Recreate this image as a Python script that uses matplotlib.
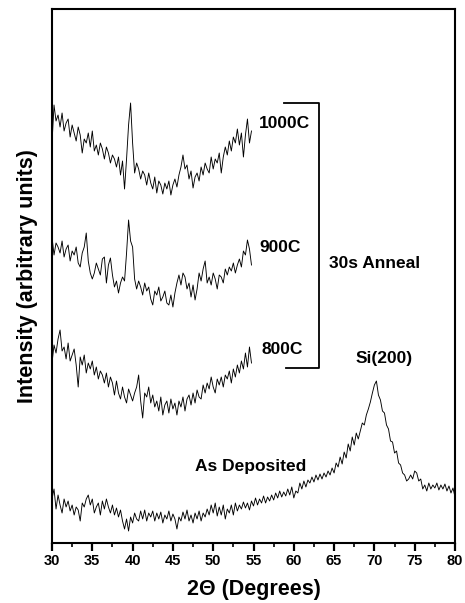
import numpy as np
import matplotlib
matplotlib.use("Agg")
import matplotlib.pyplot as plt
from matplotlib.ticker import MultipleLocator

plt.rcParams['font.family'] = ['Liberation Sans', 'DejaVu Sans']
plt.rcParams['font.weight'] = 'bold'

# ---- data ----
scan_start = 30.0
scan_step = 0.25

series_names = ["As Deposited", "800C", "900C", "1000C"]
series_offsets = [0, 120, 230, 340]

as_deposited = [
    44, 54, 34, 48, 38, 30, 44, 36, 42, 32,
    38, 28, 36, 33, 22, 40, 36, 44, 48, 38,
    44, 30, 36, 40, 28, 42, 34, 44, 36, 30,
    38, 28, 35, 26, 33, 22, 14, 24, 12, 26,
    20, 30, 24, 22, 32, 24, 33, 22, 30, 26,
    32, 22, 30, 24, 31, 20, 28, 24, 32, 22,
    29, 24, 14, 26, 22, 31, 24, 33, 22, 28,
    20, 30, 24, 32, 22, 30, 26, 34, 28, 38,
    30, 40, 27, 36, 28, 38, 24, 34, 30, 38,
    28, 40, 32, 38, 34, 41, 35, 40, 33, 42,
    37, 45, 38, 44, 40, 47, 40, 46, 42, 48,
    43, 50, 45, 52, 46, 51, 47, 54, 48, 56,
    45, 52, 50, 60, 54, 62, 56, 63, 60, 66,
    61, 68, 63, 69, 64, 70, 66, 72, 68, 75,
    70, 80, 76, 86, 79, 91, 85, 99, 92, 106,
    98, 110, 104, 112, 120, 118, 128, 134, 141, 150,
    158, 162, 148, 143, 132, 130, 118, 114, 102, 101,
    90, 92, 80, 78, 70, 68, 62, 64, 68, 64,
    72, 70, 62, 64, 54, 58, 52, 60, 54, 58,
    55, 60, 53, 58, 54, 59, 52, 57, 50, 55,
    46,
]

anneal_800 = [
    60, 78, 70, 84, 93, 72, 76, 64, 80, 62,
    68, 74, 58, 36, 66, 58, 68, 50, 60, 54,
    62, 48, 56, 44, 52, 48, 40, 50, 36, 46,
    40, 28, 42, 30, 24, 36, 26, 20, 34, 28,
    22, 30, 36, 48, 22, 5, 30, 26, 36, 20,
    28, 16, 22, 12, 26, 8, 18, 22, 10, 24,
    14, 20, 8, 22, 16, 26, 12, 24, 28, 18,
    30, 20, 33, 26, 24, 38, 30, 40, 34, 46,
    36, 30, 44, 38, 46, 36, 48, 44, 52, 40,
    54, 46, 58, 50, 62, 54, 70, 56, 76, 60,
]

anneal_900 = [
    76, 58, 70, 66, 60, 72, 56, 64, 68, 52,
    62, 58, 66, 50, 46, 60, 66, 80, 52, 40,
    34, 40, 50, 44, 38, 54, 56, 30, 48, 55,
    38, 26, 32, 20, 30, 36, 32, 60, 93, 72,
    66, 34, 24, 32, 26, 18, 30, 22, 26, 14,
    8, 22, 18, 26, 12, 16, 22, 10, 8, 18,
    6, 20, 30, 38, 28, 40, 36, 24, 30, 16,
    28, 13, 24, 40, 32, 44, 52, 30, 36, 28,
    40, 34, 24, 38, 36, 30, 44, 38, 46, 42,
    50, 40, 48, 54, 46, 62, 58, 73, 64, 48,
]

anneal_1000 = [
    60, 98, 82, 88, 76, 90, 72, 80, 84, 66,
    78, 70, 62, 76, 68, 50, 64, 60, 70, 56,
    72, 52, 58, 48, 60, 54, 44, 56, 50, 40,
    48, 44, 36, 46, 28, 42, 14, 44, 78, 100,
    60, 30, 40, 34, 24, 32, 28, 18, 30, 20,
    14, 26, 10, 22, 18, 9, 20, 14, 22, 8,
    18, 24, 16, 28, 36, 48, 34, 38, 24, 32,
    15, 26, 30, 22, 36, 28, 40, 34, 30, 46,
    34, 44, 40, 50, 30, 46, 56, 48, 62, 52,
    66, 60, 74, 58, 70, 46, 68, 84, 60, 72,
]

series_values = [as_deposited, anneal_800, anneal_900, anneal_1000]

x_ticks = [30, 35, 40, 45, 50, 55, 60, 65, 70, 75, 80]

# ---- figure ----
fig = plt.figure(figsize=(4.65, 6.03), dpi=100)
ax = fig.add_axes([52 / 465, 1 - 543 / 603, (455 - 52) / 465, (543 - 9) / 603])

for vals, off in zip(series_values, series_offsets):
    v = np.asarray(vals, dtype=float)
    x = scan_start + scan_step * np.arange(len(v))
    ax.plot(x, v + off, color='black', lw=0.65)

ax.set_xlim(30, 80)
ax.set_ylim(0, 534)
ax.set_xticks(x_ticks)
ax.xaxis.set_minor_locator(MultipleLocator(2.5))
ax.set_yticks([])
ax.tick_params(axis='x', which='major', direction='out', length=6, width=1.6,
               labelsize=10.5, pad=2)
ax.tick_params(axis='x', which='minor', direction='out', length=3, width=1.2)
for lab in ax.get_xticklabels():
    lab.set_fontweight('bold')
for s in ax.spines.values():
    s.set_linewidth(1.5)

ax.set_xlabel("2\u0398 (Degrees)", fontsize=15.5, fontweight='bold', labelpad=8)
ax.set_ylabel("Intensity (arbitrary units)", fontsize=15.5, fontweight='bold', labelpad=10)

lab_kw = dict(fontsize=12.5, fontweight='bold', va='center')
ax.text(55.7, 420, "1000C", ha='left', **lab_kw)
ax.text(55.7, 296, "900C", ha='left', **lab_kw)
ax.text(56.0, 193, "800C", ha='left', **lab_kw)
ax.text(70.0, 280, "30s Anneal", ha='center', **lab_kw)
ax.text(71.2, 184, "Si(200)", ha='center', **lab_kw)
ax.text(54.6, 77, "As Deposited", ha='center', **lab_kw)

# bracket grouping the annealed series
ax.plot([58.8, 63.15, 63.15, 59.0], [440, 440, 175, 175], color='black', lw=1.3)

fig.savefig("out.png", dpi=100)
